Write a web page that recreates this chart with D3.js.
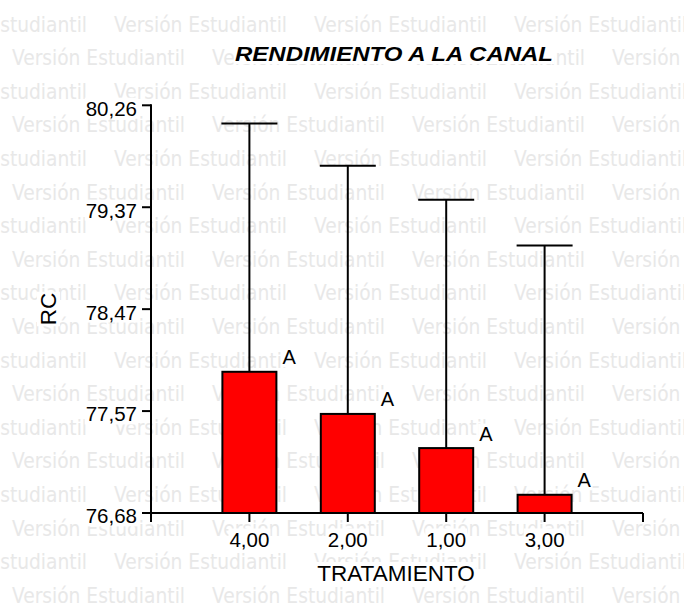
<!DOCTYPE html>
<html>
<head>
<meta charset="utf-8">
<script src="https://cdn.jsdelivr.net/npm/d3@7"></script>
<style>
  html, body { margin: 0; padding: 0; background: #fff; }
  svg { display: block; }
</style>
</head>
<body>
<svg id="chart" width="684" height="610"></svg>
<script>
// ---- data ----
const categories = ["4,00", "2,00", "1,00", "3,00"];
const means = [77.92, 77.55, 77.25, 76.84];
const upper = [80.10, 79.73, 79.43, 79.03];
const groupLetters = ["A", "A", "A", "A"];
const yTickValues = [76.68, 77.575, 78.47, 79.365, 80.26];
const yTickLabels = ["76,68", "77,57", "78,47", "79,37", "80,26"];
const yDomain = [76.68, 80.26];
const titleText = "RENDIMIENTO A LA CANAL";
const xTitle = "TRATAMIENTO";
const yTitle = "RC";
const watermark = "Versión Estudiantil";

const W = 684, H = 610;
const svg = d3.select("#chart");
const FONT = "'Liberation Sans', Arial, Helvetica, sans-serif";

// ---- watermark ----
const wm = svg.append("g").attr("class", "watermark");
for (let r = 0; r < 19; r++) {
  const yb = 31.5 + r * 33.6;
  const start = (r % 2 === 0) ? -86 : 12;
  for (let xs = start; xs < W; xs += 200) {
    wm.append("text")
      .attr("x", xs).attr("y", yb)
      .attr("font-family", "'DejaVu Sans Condensed', 'DejaVu Sans', sans-serif")
      .style("font-stretch", "condensed")
      .attr("font-size", 20.5)
      .attr("textLength", 173)
      .attr("lengthAdjust", "spacingAndGlyphs")
      .attr("fill", "#e8e8e8")
      .text(watermark);
  }
}

// helper: white box behind text
function boxed(sel, pad) {
  sel.each(function() {
    const b = this.getBBox();
    d3.select(this.parentNode).insert("rect", () => this)
      .attr("x", b.x - pad).attr("y", b.y - pad + 2)
      .attr("width", b.width + 2 * pad).attr("height", b.height + 2 * pad - 4)
      .attr("fill", "#fff");
  });
}

// ---- scales ----
const x = d3.scalePoint().domain(categories).range([151, 643]).padding(1);
const y = d3.scaleLinear().domain(yDomain).range([513, 105.3]);

const barW = 54, capW = 56;
const data = categories.map((c, i) => ({ c, m: means[i], u: upper[i], g: groupLetters[i] }));

// ---- error bars (drawn under bars) ----
const g = svg.append("g");
g.selectAll("line.err").data(data).join("line")
  .attr("x1", d => x(d.c)).attr("x2", d => x(d.c))
  .attr("y1", d => y(d.m)).attr("y2", d => y(d.u))
  .attr("stroke", "#000").attr("stroke-width", 2);
g.selectAll("line.cap").data(data).join("line")
  .attr("x1", d => x(d.c) - capW / 2).attr("x2", d => x(d.c) + capW / 2)
  .attr("y1", d => y(d.u)).attr("y2", d => y(d.u))
  .attr("stroke", "#000").attr("stroke-width", 2);

// ---- bars ----
g.selectAll("rect.bar").data(data).join("rect")
  .attr("class", "bar")
  .attr("x", d => x(d.c) - barW / 2)
  .attr("width", barW)
  .attr("y", d => y(d.m))
  .attr("height", d => y(yDomain[0]) - y(d.m))
  .attr("fill", "#ff0000")
  .attr("stroke", "#000").attr("stroke-width", 2);

// ---- group letters ----
const lg = svg.append("g");
const letters = lg.selectAll("text").data(data).join("text")
  .attr("x", d => x(d.c) + barW / 2 + 6)
  .attr("y", d => y(d.m) - 7.5)
  .attr("font-family", FONT).attr("font-size", 20)
  .attr("fill", "#000")
  .text(d => d.g);
boxed(letters, 1);

// ---- axes ----
const ax = svg.append("g");
ax.append("line").attr("x1", 151).attr("x2", 151)
  .attr("y1", y(yDomain[1]) - 1).attr("y2", y(yDomain[0]) + 1)
  .attr("stroke", "#000").attr("stroke-width", 2);
ax.selectAll("line.yt").data(yTickValues).join("line")
  .attr("x1", 142).attr("x2", 151)
  .attr("y1", d => y(d)).attr("y2", d => y(d))
  .attr("stroke", "#000").attr("stroke-width", 2);
const ylab = ax.selectAll("text.yl").data(yTickValues).join("text")
  .attr("x", 137).attr("y", d => y(d) + 10.4)
  .attr("text-anchor", "end")
  .attr("font-family", FONT).attr("font-size", 20.5)
  .attr("fill", "#000")
  .text((d, i) => yTickLabels[i]);
boxed(ylab, 1);

ax.append("line").attr("x1", 150).attr("x2", 643)
  .attr("y1", 513).attr("y2", 513)
  .attr("stroke", "#000").attr("stroke-width", 2);
const xTickPos = [151].concat(categories.map(c => x(c))).concat([643]);
ax.selectAll("line.xt").data(xTickPos).join("line")
  .attr("x1", d => d).attr("x2", d => d)
  .attr("y1", 513).attr("y2", 522)
  .attr("stroke", "#000").attr("stroke-width", 2);
const xlab = ax.selectAll("text.xl").data(categories).join("text")
  .attr("x", d => x(d)).attr("y", 546.5)
  .attr("text-anchor", "middle")
  .attr("font-family", FONT).attr("font-size", 20.5)
  .attr("fill", "#000")
  .text(d => d);
boxed(xlab, 1);

const xt = ax.append("text")
  .attr("x", 396).attr("y", 581)
  .attr("text-anchor", "middle")
  .attr("font-family", FONT).attr("font-size", 22.5)
  .attr("fill", "#000")
  .text(xTitle);
boxed(xt, 1);
const ytg = ax.append("g").attr("transform", "translate(56,309) rotate(-90)");
const yt = ytg.append("text")
  .attr("x", 0).attr("y", 0)
  .attr("text-anchor", "middle")
  .attr("font-family", FONT).attr("font-size", 22.5)
  .attr("fill", "#000")
  .text(yTitle);
boxed(yt, 1);

// title
const tt = svg.append("text")
  .attr("x", 235).attr("y", 61)
  .attr("font-family", FONT).attr("font-size", 20.5)
  .attr("font-weight", "bold").attr("font-style", "italic")
  .attr("textLength", 318)
  .attr("lengthAdjust", "spacingAndGlyphs")
  .attr("fill", "#000")
  .text(titleText);
boxed(tt, 1);
</script>
</body>
</html>
